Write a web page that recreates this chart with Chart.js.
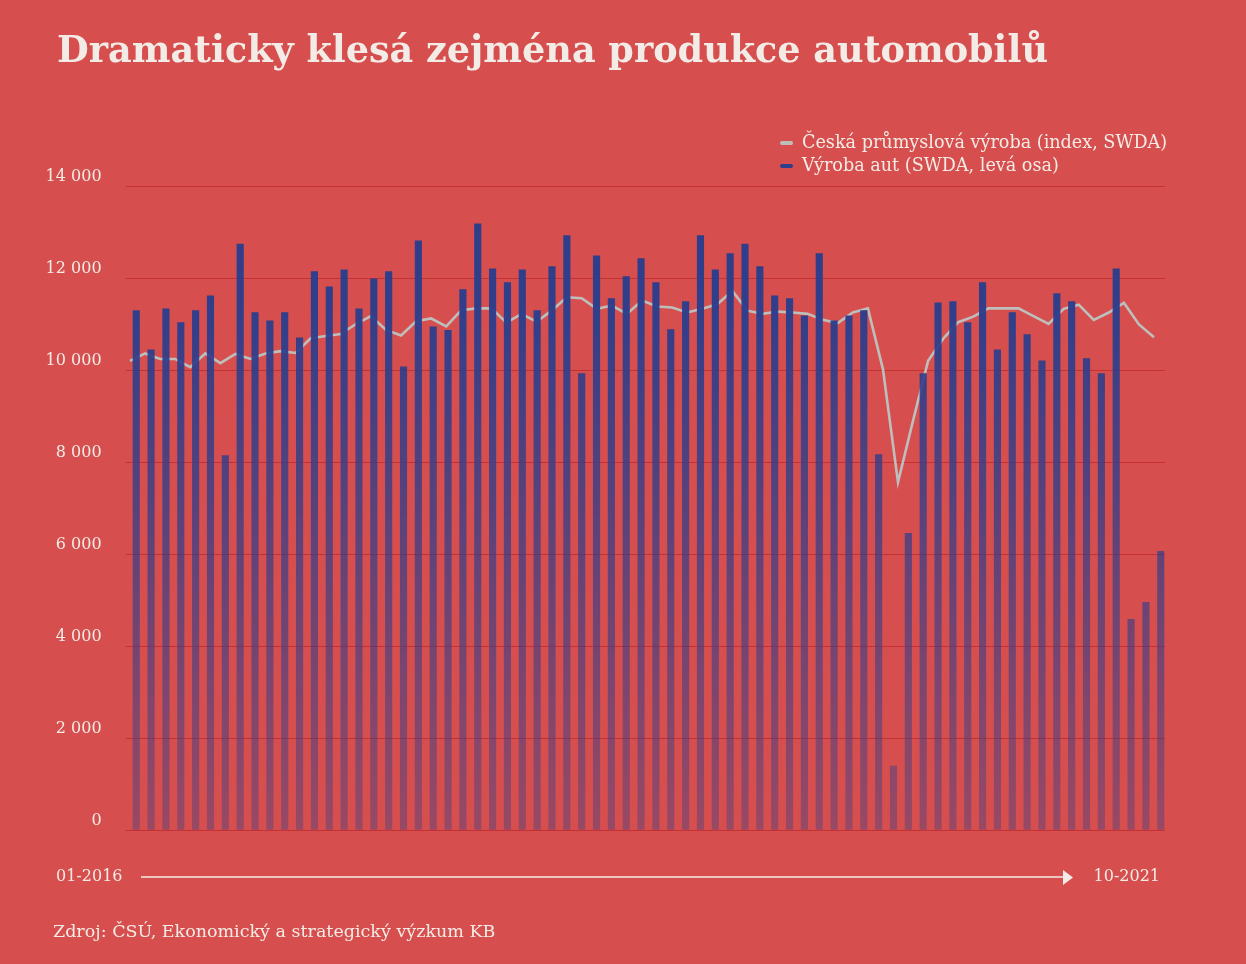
<!DOCTYPE html>
<html><head><meta charset="utf-8">
<script src="https://cdn.jsdelivr.net/npm/chart.js@4.4.1/dist/chart.umd.min.js"></script>
<style>
html,body{margin:0;padding:0;background:#d64f4e;}
#wrap{position:relative;width:1246px;height:964px;overflow:hidden;background:#d64f4e;font-family:"DejaVu Serif",serif;color:#f3ece6;}
#c{position:absolute;left:0;top:0;width:1246px;height:964px;}
#title{position:absolute;left:57px;top:31px;font-size:36.6px;line-height:37px;font-weight:bold;white-space:nowrap;}
#legend{position:absolute;left:780px;top:131px;font-size:17.6px;line-height:23px;white-space:nowrap;}
#legend .row{display:flex;align-items:center;height:23px;}
#legend .mk{display:inline-block;width:13px;height:4px;border-radius:2px;margin-right:9px;}
.xl{position:absolute;top:866px;font-size:16px;line-height:20px;white-space:nowrap;}
#src{position:absolute;left:53px;top:920px;font-size:17.5px;line-height:22px;white-space:nowrap;}
#arrow{position:absolute;left:0;top:0;}
</style></head><body>
<div id="wrap">
<canvas id="c" width="1246" height="964"></canvas>
<div id="title">Dramaticky klesá zejména produkce automobilů</div>
<div id="legend">
  <div class="row"><span class="mk" id="mk1"></span><span>Česká průmyslová výroba (index, SWDA)</span></div>
  <div class="row"><span class="mk" id="mk2"></span><span>Výroba aut (SWDA, levá osa)</span></div>
</div>
<div class="xl" style="left:56px;">01-2016</div>
<svg id="arrow" width="1246" height="964"><line x1="141" y1="877" x2="1066" y2="877" stroke="#f3ece6" stroke-width="1.5"/><polygon points="1063,870 1073,877.5 1063,885" fill="#f3ece6"/></svg>
<div class="xl" style="right:86px;">10-2021</div>
<div id="src">Zdroj: ČSÚ, Ekonomický a strategický výzkum KB</div>
</div>
<script>
// ---- data ----
const years = [2016, 2017, 2018, 2019, 2020, 2021];
const monthLabels = [];
for (const y of years) { for (let m = 1; m <= 12; m++) { if (y === 2021 && m > 10) break; monthLabels.push(String(m).padStart(2,'0') + '-' + y); } }

// Výroba aut (SWDA), left axis, 01-2016 .. 10-2021
const carProduction = [
  11290, 10440, 11330, 11030, 11290, 11610, 8140, 12740, 11250, 11070, 11250, 10700,
  12140, 11810, 12180, 11330, 11980, 12140, 10070, 12810, 10940, 10860, 11750, 13180,
  12200, 11900, 12180, 11290, 12250, 12920, 9920, 12480, 11550, 12030, 12420, 11900,
  10880, 11490, 12920, 12180, 12530, 12740, 12250, 11610, 11550, 11180, 12530, 11070,
  11180, 11290, 8160, 1390, 6450, 9920, 11460, 11490, 11030, 11900, 10440, 11250,
  10770, 10200, 11660, 11490, 10250, 9920, 12200, 4580, 4950, 6060
];

// Česká průmyslová výroba (index, SWDA)
const industryIndex = [
  102.0, 103.6, 102.4, 102.4, 100.6, 103.6, 101.5, 103.5, 102.4, 103.6, 104.1, 103.7,
  106.9, 107.4, 107.8, 110.0, 111.7, 108.7, 107.5, 110.6, 111.2, 109.5, 113.0, 113.4,
  113.4, 110.3, 112.2, 110.5, 112.9, 115.8, 115.6, 113.3, 114.0, 112.2, 115.1, 113.8,
  113.6, 112.5, 113.3, 114.3, 117.2, 112.9, 112.2, 112.7, 112.5, 112.2, 110.9, 110.2,
  112.5, 113.4, 100.2, 75.6, 89.0, 102.0, 106.8, 110.4, 111.6, 113.4, 113.4, 113.4,
  111.7, 110.0, 113.3, 114.2, 110.9, 112.5, 114.6, 109.9, 107.1
];

const yTicks = [0, 2000, 4000, 6000, 8000, 10000, 12000, 14000];

// ---- style ----
const TXT = '#f3ece6';
const BAR_RGB = '44,62,140', LINE_COL = 'rgb(190,190,188)';
document.getElementById('mk1').style.background = LINE_COL;
document.getElementById('mk2').style.background = 'rgb(' + BAR_RGB + ')';

let grad = null, gradKey = '';
function barFill(ctx) {
  const ch = ctx.chart, a = ch.chartArea;
  if (!a) return 'rgb(' + BAR_RGB + ')';
  const key = a.top + '|' + a.bottom;
  if (!grad || gradKey !== key) {
    grad = ch.ctx.createLinearGradient(0, a.top, 0, a.bottom);
    grad.addColorStop(0, 'rgba(' + BAR_RGB + ',1)');
    grad.addColorStop(0.2, 'rgba(' + BAR_RGB + ',0.97)');
    grad.addColorStop(1, 'rgba(' + BAR_RGB + ',0.36)');
    gradKey = key;
  }
  return grad;
}
const fmt = v => String(v).replace(/\B(?=(\d{3})+(?!\d))/g, '\u00a0');

new Chart(document.getElementById('c'), {
  type: 'bar',
  data: {
    labels: monthLabels,
    datasets: [
      {
        type: 'line', label: 'Česká průmyslová výroba (index, SWDA)',
        data: industryIndex.map((v, i) => ({x: i, y: v})),
        xAxisID: 'x2', yAxisID: 'y1',
        borderColor: LINE_COL, borderWidth: 2.6, pointRadius: 0, tension: 0, fill: false, order: 2
      },
      {
        type: 'bar', label: 'Výroba aut (SWDA, levá osa)',
        data: carProduction, xAxisID: 'x', yAxisID: 'y',
        backgroundColor: barFill, borderWidth: 0,
        barThickness: 6.5, order: 1
      }
    ]
  },
  options: {
    responsive: false, animation: false, devicePixelRatio: 1,
    layout: {padding: {left: 0, right: 81.07, top: 186, bottom: 134}},
    plugins: {legend: {display: false}, tooltip: {enabled: false}},
    scales: {
      x: {type: 'category', display: false, offset: true, grid: {display: false}},
      x2: {type: 'linear', display: false, offset: false, min: -0.294, max: 68.726, grid: {display: false}},
      y: {
        position: 'left', min: 0, max: 14000,
        afterBuildTicks: s => { s.ticks = yTicks.map(v => ({value: v})); },
        afterFit: s => { s.width = 125.57; },
        border: {display: false},
        grid: {color: 'rgba(188,30,36,0.62)', lineWidth: 1, drawTicks: false},
        ticks: {color: TXT, padding: 24, labelOffset: -9, font: {family: 'DejaVu Serif', size: 16}, callback: v => fmt(v)}
      },
      y1: {position: 'right', display: false, min: 0, max: 140}
    }
  }
});
</script>
</body></html>
